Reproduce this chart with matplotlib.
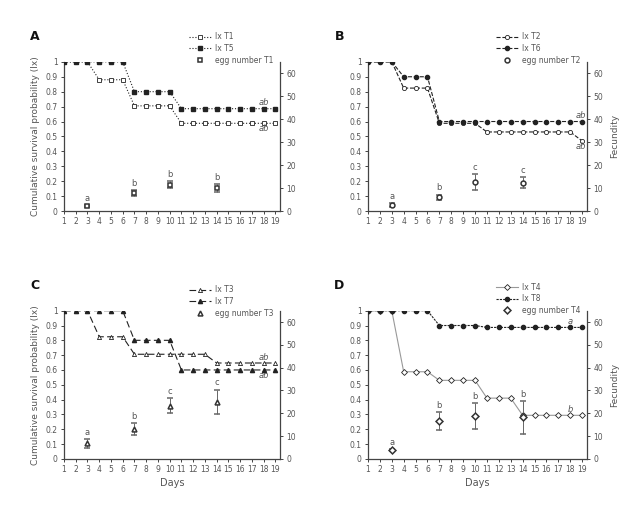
import matplotlib
matplotlib.use("Agg")
import matplotlib.pyplot as plt
from matplotlib.lines import Line2D

# 日数
days = list(range(1, 20))
egg_days = [3, 7, 10, 14]

# パネルA
lx_t1 = [1, 1, 1, 0.88, 0.88, 0.88, 0.705, 0.705, 0.705, 0.705, 0.588, 0.588, 0.588, 0.588, 0.588, 0.588, 0.588, 0.588, 0.588]
lx_t5 = [1, 1, 1, 1, 1, 1, 0.8, 0.8, 0.8, 0.8, 0.686, 0.686, 0.686, 0.686, 0.686, 0.686, 0.686, 0.686, 0.686]
egg_t1 = [2.2, 7.8, 11.4, 10.0]
egg_t1_err = [0.5, 1.2, 1.5, 1.8]
sig_t1 = ['a', 'b', 'b', 'b']

# パネルB
lx_t2 = [1, 1, 1, 0.824, 0.824, 0.824, 0.588, 0.588, 0.588, 0.588, 0.53, 0.53, 0.53, 0.53, 0.53, 0.53, 0.53, 0.53, 0.47]
lx_t6 = [1, 1, 1, 0.9, 0.9, 0.9, 0.6, 0.6, 0.6, 0.6, 0.6, 0.6, 0.6, 0.6, 0.6, 0.6, 0.6, 0.6, 0.6]
egg_t2 = [2.6, 6.0, 12.7, 12.4]
egg_t2_err = [0.8, 1.2, 3.4, 2.5]
sig_t2 = ['a', 'b', 'c', 'c']

# パネルC
lx_t3 = [1, 1, 1, 0.824, 0.824, 0.824, 0.706, 0.706, 0.706, 0.706, 0.706, 0.706, 0.706, 0.647, 0.647, 0.647, 0.647, 0.647, 0.647]
lx_t7 = [1, 1, 1, 1, 1, 1, 0.8, 0.8, 0.8, 0.8, 0.6, 0.6, 0.6, 0.6, 0.6, 0.6, 0.6, 0.6, 0.6]
egg_t3 = [6.8, 13.0, 23.4, 25.0]
egg_t3_err = [2.0, 2.6, 3.3, 5.4]
sig_t3 = ['a', 'b', 'c', 'c']

# パネルD
lx_t4 = [1, 1, 1, 0.588, 0.588, 0.588, 0.53, 0.53, 0.53, 0.53, 0.41, 0.41, 0.41, 0.294, 0.294, 0.294, 0.294, 0.294, 0.294]
lx_t8 = [1, 1, 1, 1, 1, 1, 0.9, 0.9, 0.9, 0.9, 0.887, 0.887, 0.887, 0.887, 0.887, 0.887, 0.887, 0.887, 0.887]
egg_t4 = [3.9, 16.6, 18.9, 18.2]
egg_t4_err = [0.5, 3.9, 5.7, 7.1]
sig_t4 = ['a', 'b', 'b', 'b']

GREY = '#555555'
LINE = '#222222'
FS = 5.5


def draw_panel(fig, rect, letter, lx_a, lx_b, egg, egg_err, sig, names, style,
               end_labels, legend_pos, left_label, right_label, x_label):
    ax = fig.add_axes(rect)
    ax2 = ax.twinx()

    marker = style['marker']
    ha = ax.plot(days, lx_a, color=style['color_a'], linestyle=style['ls_a'], linewidth=0.8,
                 marker=marker, markersize=3, markerfacecolor='white',
                 markeredgecolor=LINE, markeredgewidth=0.6, zorder=3)[0]
    hb = ax.plot(days, lx_b, color=LINE, linestyle=style['ls_b'], linewidth=0.8,
                 marker=style['marker_b'], markersize=3, markerfacecolor=LINE,
                 markeredgecolor=LINE, zorder=4)[0]

    ax2.errorbar(egg_days, egg, yerr=egg_err, fmt=marker, markersize=3.5,
                 markerfacecolor='white', markeredgecolor='#333333', markeredgewidth=1.1,
                 ecolor='#666666', elinewidth=0.7, capsize=2, capthick=0.6)
    for d, m, e, s in zip(egg_days, egg, egg_err, sig):
        ax2.text(d, m + e + 1.0, s, ha='center', va='bottom', fontsize=FS + 0.5, color=GREY)

    for d, y, s in end_labels:
        ax.text(d, y, s, ha='center', va='center', fontsize=FS + 0.5, color=GREY, style='italic')

    ax.set_xlim(1, 19.4)
    ax.set_ylim(0, 1)
    ax2.set_ylim(0, 65)
    ax.set_xticks(days)
    ax.set_yticks([i / 10 for i in range(11)])
    ax.set_yticklabels(['0', '0.1', '0.2', '0.3', '0.4', '0.5', '0.6', '0.7', '0.8', '0.9', '1'])
    ax2.set_yticks(range(0, 61, 10))

    for a in (ax, ax2):
        a.spines['top'].set_visible(False)
        for sp in a.spines.values():
            sp.set_color('#444444')
            sp.set_linewidth(0.9)
        a.tick_params(direction='out', length=2.5, width=0.7, colors='#444444',
                      labelsize=FS, labelcolor=GREY, pad=2)
    ax2.spines['left'].set_visible(False)
    ax2.spines['bottom'].set_visible(False)
    ax.spines['right'].set_visible(False)

    if left_label:
        ax.set_ylabel('Cumulative survival probability (lx)', fontsize=FS + 1, color=GREY, labelpad=4)
    if right_label:
        ax2.set_ylabel('Fecundity', fontsize=FS + 1, color=GREY, labelpad=5)
    if x_label:
        ax.set_xlabel('Days', fontsize=FS + 1.5, color=GREY, labelpad=3)

    # 凡例 (卵数はマーカーのみ)
    he = Line2D([], [], linestyle='none', marker=marker, markersize=3.5,
                markerfacecolor='white', markeredgecolor='#333333', markeredgewidth=1.1)
    fig.legend([ha, hb, he], ['lx ' + names[0], 'lx ' + names[1], 'egg number ' + names[0]],
               loc='upper left', bbox_to_anchor=legend_pos,
               bbox_transform=fig.transFigure, frameon=False, fontsize=FS,
               handlelength=2.8, handletextpad=0.6, labelspacing=0.35, labelcolor=GREY)

    fig.text(rect[0] - 0.045, rect[1] + rect[3] + 0.05, letter, fontsize=9, fontweight='bold',
             ha='center', va='center', color='#111111')


def main():
    fig = plt.figure(figsize=(6.4, 5.11), dpi=100)

    draw_panel(fig, [0.100, 0.587, 0.3375, 0.292], 'A', lx_t1, lx_t5, egg_t1, egg_t1_err, sig_t1,
               ['T1', 'T5'], {'marker': 's', 'marker_b': 's', 'color_a': LINE, 'ls_a': ':', 'ls_b': ':'},
               [(18, 0.725, 'ab'), (18, 0.55, 'ab')], (0.285, 0.95), True, False, False)
    draw_panel(fig, [0.575, 0.587, 0.342, 0.292], 'B', lx_t2, lx_t6, egg_t2, egg_t2_err, sig_t2,
               ['T2', 'T6'], {'marker': 'o', 'marker_b': 'o', 'color_a': LINE, 'ls_a': '--', 'ls_b': '--'},
               [(18.9, 0.64, 'ab'), (18.9, 0.43, 'ab')], (0.765, 0.95), False, True, False)
    draw_panel(fig, [0.100, 0.102, 0.3375, 0.290], 'C', lx_t3, lx_t7, egg_t3, egg_t3_err, sig_t3,
               ['T3', 'T7'], {'marker': '^', 'marker_b': '^', 'color_a': LINE,
                              'ls_a': (0, (6, 3)), 'ls_b': (0, (6, 3))},
               [(18, 0.685, 'ab'), (18, 0.565, 'ab')], (0.285, 0.455), True, False, True)
    draw_panel(fig, [0.575, 0.102, 0.342, 0.290], 'D', lx_t4, lx_t8, egg_t4, egg_t4_err, sig_t4,
               ['T4', 'T8'], {'marker': 'D', 'marker_b': 'o', 'color_a': '#999999',
                              'ls_a': '-', 'ls_b': (0, (2, 1))},
               [(18, 0.925, 'a'), (18, 0.33, 'b')], (0.765, 0.46), False, True, True)

    fig.savefig('out.png', dpi=100, facecolor='white')
    plt.close(fig)


if __name__ == "__main__":
    main()
